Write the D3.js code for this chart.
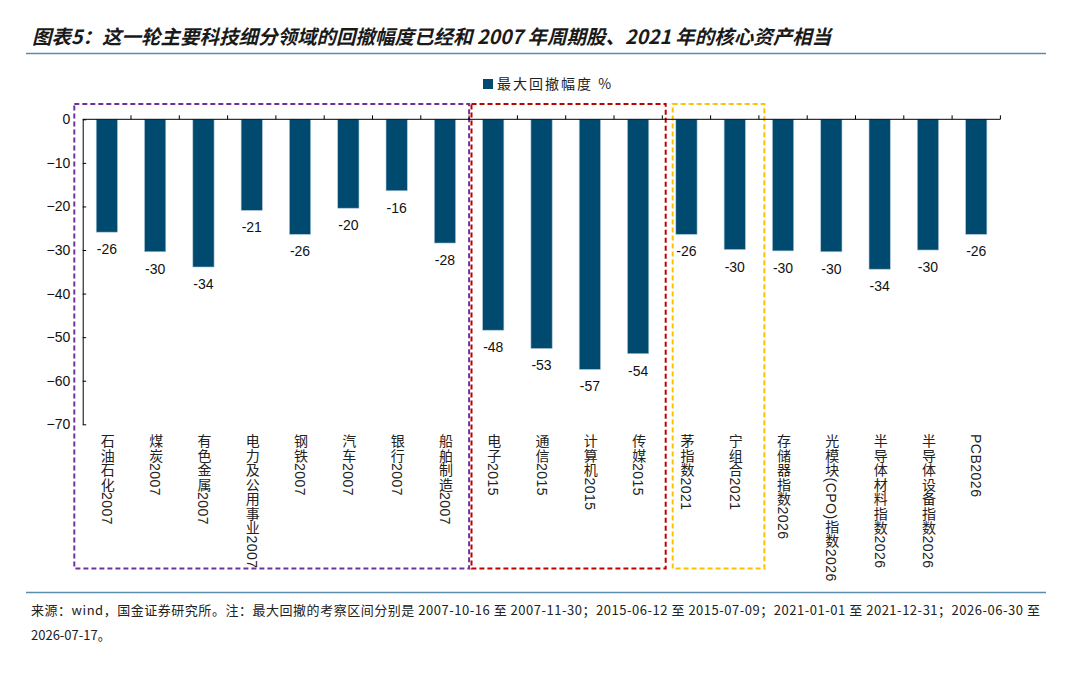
<!DOCTYPE html>
<html><head><meta charset="utf-8">
<script src="https://cdn.jsdelivr.net/npm/d3@7/dist/d3.min.js"></script>
<style>
body{margin:0;background:#fff;}
svg{display:block;}
</style></head>
<body>
<svg id="chart" width="1080" height="676"></svg>
<script>
const categories = ["石油石化2007","煤炭2007","有色金属2007","电力及公用事业2007","钢铁2007","汽车2007","银行2007","船舶制造2007",
  "电子2015","通信2015","计算机2015","传媒2015","茅指数2021","宁组合2021",
  "存储器指数2026","光模块(CPO)指数2026","半导体材料指数2026","半导体设备指数2026","PCB2026"];
const drawdown = [-25.9,-30.4,-33.9,-20.9,-26.4,-20.4,-16.4,-28.4,
  -48.4,-52.6,-57.4,-53.8,-26.4,-29.9,-30.2,-30.4,-34.4,-30.0,-26.4];
const dataLabels = [-26,-30,-34,-21,-26,-20,-16,-28,-48,-53,-57,-54,-26,-30,-30,-30,-34,-30,-26];
const yTicks = [0,-10,-20,-30,-40,-50,-60,-70];
const seriesName = "最大回撤幅度 %";
const groupStart = [0, 8, 12];
const groupEnd = [8, 12, 14];
const groupColors = ["#7030A0","#C00000","#FFC000"];
const title = "图表5：这一轮主要科技细分领域的回撤幅度已经和 2007 年周期股、2021 年的核心资产相当";
const note1 = "来源：wind，国金证券研究所。注：最大回撤的考察区间分别是 2007-10-16 至 2007-11-30；2015-06-12 至 2015-07-09；2021-01-01 至 2021-12-31；2026-06-30 至";
const note2 = "2026-07-17。";

const svg = d3.select("#chart");
const cjk = "'Noto Sans CJK SC','Noto Sans',sans-serif";
const latin = "'Liberation Sans',Arial,sans-serif";

const x = d3.scaleBand().domain(categories).range([82.7, 1000.4]).paddingInner(0.56).paddingOuter(0.28);
const y = d3.scaleLinear().domain([-70, 0]).range([424.3, 119.3]);
const step = x.step();
const x0 = x.range()[0];
const boundary = i => x0 + i * step;

// title
svg.append("text").attr("x", 32).attr("y", 44).text(title)
  .attr("font-family", cjk).attr("font-size", 19.5).attr("font-weight", "bold").attr("font-style", "italic")
  .attr("fill", "#1a1a1a");
svg.append("line").attr("x1", 26).attr("x2", 1046).attr("y1", 53.5).attr("y2", 53.5)
  .attr("stroke", "#5b8cab").attr("stroke-width", 1.5);

// legend
svg.append("rect").attr("x", 483).attr("y", 79).attr("width", 10).attr("height", 10).attr("fill", "#004a6f");
svg.append("text").attr("x", 497).attr("y", 89).text(seriesName)
  .attr("font-family", cjk).attr("font-size", 14).attr("letter-spacing", 2).attr("fill", "#222");

// group boxes
const padL = [-8.4, 2.4, 10.4], padR = [0, 3.4, 5.5];
groupStart.forEach((s, i) => {
  const l = boundary(s) + padL[i], r = boundary(groupEnd[i]) + padR[i];
  svg.append("rect").attr("x", l).attr("y", 104).attr("width", r - l).attr("height", 464.5)
    .attr("fill", "none").attr("stroke", groupColors[i]).attr("stroke-width", 2).attr("stroke-dasharray", "5,3");
});

// bars
svg.append("g").selectAll("rect").data(categories).join("rect")
  .attr("x", d => x(d)).attr("width", x.bandwidth())
  .attr("y", y(0)).attr("height", (d, i) => y(drawdown[i]) - y(0))
  .attr("fill", "#004a6f").attr("stroke", "#a9c6d8").attr("stroke-width", 0.6);

// data labels
svg.append("g").selectAll("text").data(categories).join("text")
  .attr("x", d => x(d) + x.bandwidth() / 2).attr("y", (d, i) => y(drawdown[i]) + 22)
  .attr("text-anchor", "middle").attr("font-family", latin).attr("font-size", 14).attr("fill", "#111")
  .text((d, i) => dataLabels[i]);

// y axis
const yAxis = d3.axisLeft(y).tickValues(yTicks).tickSizeInner(-3.5).tickSizeOuter(0).tickPadding(12.5).tickFormat(d3.format("d"));
const gy = svg.append("g").attr("transform", `translate(${x0},0)`).call(yAxis);
gy.selectAll("text").attr("font-family", latin).attr("font-size", 14).attr("fill", "#111");
gy.selectAll("line,path").attr("stroke", "#000");

// x axis line at 0 with upward ticks at band boundaries
const gx = svg.append("g");
gx.append("line").attr("x1", x0).attr("x2", x.range()[1]).attr("y1", y(0)).attr("y2", y(0)).attr("stroke", "#000");
gx.selectAll("line.t").data(d3.range(1, categories.length + 1)).join("line").attr("class", "t")
  .attr("x1", i => boundary(i)).attr("x2", i => boundary(i))
  .attr("y1", y(0)).attr("y2", y(0) - 4).attr("stroke", "#000");

// category labels (vertical)
svg.append("g").selectAll("text").data(categories).join("text")
  .attr("x", d => x(d) + x.bandwidth() / 2).attr("y", 434)
  .attr("style", "writing-mode: vertical-rl; text-orientation: mixed;")
  .attr("font-family", "'Liberation Sans','Noto Sans CJK SC',sans-serif")
  .attr("font-size", 14).attr("letter-spacing", 0.5).attr("fill", "#222")
  .text(d => d);

// footer
svg.append("line").attr("x1", 26).attr("x2", 1046).attr("y1", 592.5).attr("y2", 592.5)
  .attr("stroke", "#5b8cab").attr("stroke-width", 1.5);
svg.append("text").attr("x", 31).attr("y", 615).text(note1)
  .attr("font-family", cjk).attr("font-size", 13).attr("fill", "#222")
  .attr("textLength", 1009).attr("lengthAdjust", "spacing");
svg.append("text").attr("x", 31).attr("y", 640).text(note2)
  .attr("font-family", cjk).attr("font-size", 13).attr("fill", "#222");
</script>
</body></html>
